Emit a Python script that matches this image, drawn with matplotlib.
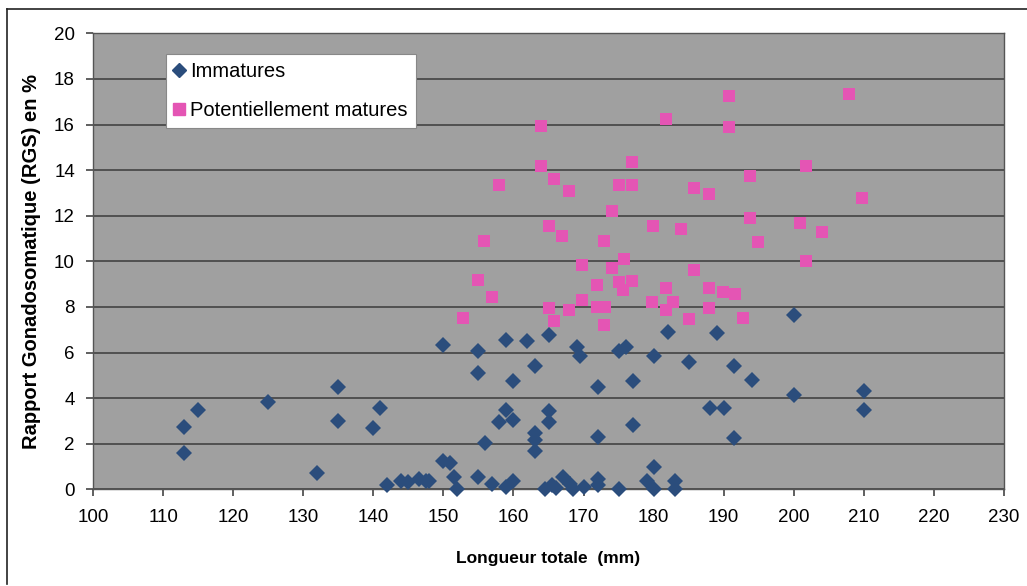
import matplotlib
matplotlib.use('Agg')
import matplotlib.pyplot as plt
from matplotlib.lines import Line2D

plt.rcParams['font.family'] = ['Liberation Sans', 'DejaVu Sans']

# Immatures : longueur totale (mm), RGS (%)
imm_lt = [113, 113, 115, 125, 135, 135, 132, 141, 140, 142, 144, 145, 146.5, 147.5,
          150, 155, 159, 162, 165, 169, 169.5, 175, 176, 182, 180, 185, 189,
          155, 163, 160, 172, 177, 159, 158, 160, 165, 165, 177, 172, 156,
          163, 163, 163, 188, 190, 150, 151, 148, 151.5, 152, 155, 157, 159,
          160, 165.5, 167, 168, 168.5, 170, 172, 172, 175, 180, 179, 180, 183,
          183, 164.5, 166, 191.5, 194, 200, 210, 210, 191.5, 200]
imm_rgs = [1.6, 2.75, 3.5, 3.85, 4.5, 3.0, 0.7, 3.55, 2.7, 0.2, 0.35, 0.3, 0.45, 0.35,
           6.35, 6.05, 6.55, 6.5, 6.75, 6.25, 5.85, 6.05, 6.25, 6.9, 5.85, 5.6, 6.85,
           5.1, 5.4, 4.75, 4.5, 4.75, 3.5, 2.95, 3.05, 3.45, 2.95, 2.8, 2.3, 2.05,
           2.45, 2.15, 1.7, 3.55, 3.55, 1.25, 1.15, 0.35, 0.55, 0.0, 0.55, 0.25, 0.1,
           0.35, 0.2, 0.55, 0.25, 0.0, 0.1, 0.45, 0.2, 0.0, 1.0, 0.35, 0.0, 0.35,
           0.0, 0.0, 0.05, 5.4, 4.8, 4.15, 4.3, 3.5, 2.25, 7.65]

# Potentiellement matures
mat_lt = [152.8, 155, 155.8, 156.9, 158, 163.9, 163.9, 165, 165, 165.8, 165.8, 166.9,
          167.9, 167.9, 169.8, 169.8, 171.9, 171.9, 172.9, 173, 172.9, 174, 174,
          175.1, 175.1, 175.7, 175.8, 176.9, 176.9, 176.9, 179.9, 179.8, 181.7,
          181.7, 181.7, 182.8, 183.9, 185.8, 185.8, 185, 187.9, 187.9, 187.9,
          189.9, 190.8, 190.8, 191.6, 192.7, 193.8, 193.8, 194.9, 200.9, 201.7,
          201.7, 204, 207.9, 209.8]
mat_rgs = [7.5, 9.2, 10.9, 8.45, 13.35, 15.95, 14.2, 11.55, 7.95, 13.6, 7.4, 11.1,
           13.1, 7.85, 9.85, 8.3, 8.95, 8.0, 10.9, 8.0, 7.2, 12.2, 9.7,
           13.35, 9.1, 8.75, 10.1, 14.35, 13.35, 9.15, 11.55, 8.2, 16.25,
           8.85, 7.85, 8.2, 11.4, 13.2, 9.6, 7.45, 12.95, 8.85, 7.95,
           8.65, 17.25, 15.9, 8.55, 7.5, 13.75, 11.9, 10.85, 11.7, 14.2,
           10.0, 11.3, 17.35, 12.8]

x_ticks = list(range(100, 231, 10))
y_ticks = list(range(0, 21, 2))

blue = '#2b4d7c'
pink = '#e455b4'

fig = plt.figure(figsize=(10.27, 5.86), dpi=100)
ax = fig.add_axes([0.0906, 0.165, 0.887, 0.778])
ax.set_facecolor('#a0a0a0')

ax.plot(imm_lt, imm_rgs, 'D', color=blue, markersize=8.5, markeredgewidth=0,
        label='Immatures', zorder=3, clip_on=False)
ax.plot(mat_lt, mat_rgs, 's', color=pink, markersize=9, markeredgewidth=0,
        label='Potentiellement matures', zorder=3, clip_on=False)

ax.set_xlim(100, 230)
ax.set_ylim(0, 20)
ax.set_xticks(x_ticks)
ax.set_yticks(y_ticks)
ax.yaxis.grid(True, color='#4a4a4a', linewidth=1.3)
ax.set_axisbelow(True)
for s in ax.spines.values():
    s.set_color('#555555')
    s.set_linewidth(1.0)
ax.tick_params(axis='both', labelsize=13.5, color='#444444', length=5, width=1.2)
ax.tick_params(axis='y', pad=8)
ax.tick_params(axis='x', pad=9)

ax.set_xlabel('Longueur totale  (mm)', fontsize=12.5, fontweight='bold', labelpad=18)
ax.set_ylabel('Rapport Gonadosomatique (RGS) en %', fontsize=14.5, fontweight='bold',
              labelpad=9)

handles = [Line2D([], [], marker='D', color=blue, linestyle='none', markersize=7.5),
           Line2D([], [], marker='s', color=pink, linestyle='none', markersize=9)]
leg = ax.legend(handles, ['Immatures', 'Potentiellement matures'], loc='upper left',
                bbox_to_anchor=(0.08, 0.955), borderaxespad=0, fontsize=14.5,
                fancybox=False, framealpha=1, edgecolor='#888888',
                handletextpad=0.3, handlelength=0.5, borderpad=0.4, labelspacing=1.0)
leg.get_frame().set_linewidth(0.8)

# cadre du graphique
fig.add_artist(Line2D([0.007, 0.007], [0.003, 0.985], color='#222222', lw=1.2))
fig.add_artist(Line2D([0.007, 1.0], [0.985, 0.985], color='#222222', lw=1.2))

fig.savefig('out.png', dpi=100)
